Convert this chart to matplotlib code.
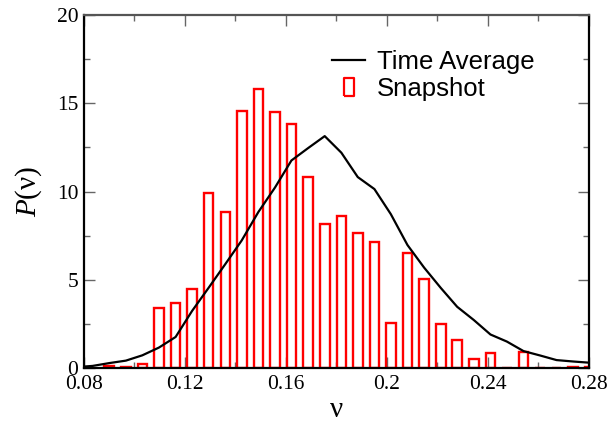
import matplotlib
matplotlib.use("Agg")
import matplotlib.pyplot as plt
from matplotlib.lines import Line2D
from matplotlib.ticker import MultipleLocator

# histogram of a single snapshot (bin centres, heights)
snap_nu = [0.0900, 0.0966, 0.1031, 0.1097, 0.1163, 0.1228, 0.1294, 0.1360,
           0.1425, 0.1491, 0.1557, 0.1622, 0.1688, 0.1754, 0.1820, 0.1885,
           0.1951, 0.2016, 0.2082, 0.2148, 0.2214, 0.2279, 0.2345, 0.2411,
           0.2476, 0.2542, 0.2608, 0.2673, 0.2739, 0.2805]
snap_p = [0.12, 0.05, 0.22, 3.38, 3.66, 4.49, 9.89, 8.82, 14.56, 15.81,
          14.50, 13.84, 10.80, 8.18, 8.61, 7.63, 7.16, 2.57, 6.53, 5.02,
          2.51, 1.57, 0.49, 0.87, 0.0, 0.90, 0.0, 0.0, 0.08, 0.08]

# time averaged distribution
avg_nu = [0.0768, 0.0834] + snap_nu
avg_p = [0.05, 0.12, 0.28, 0.42, 0.72, 1.16, 1.76, 3.23, 4.55, 5.89, 7.23,
         8.84, 10.23, 11.76, 12.46, 13.14, 12.20, 10.82, 10.14, 8.72, 6.97,
         5.69, 4.54, 3.47, 2.72, 1.90, 1.50, 0.96, 0.71, 0.45, 0.37, 0.30]

x_ticks = [0.08, 0.12, 0.16, 0.2, 0.24, 0.28]
x_labels = ["0.08", "0.12", "0.16", "0.2", "0.24", "0.28"]
y_ticks = [0, 5, 10, 15, 20]

serif = "Liberation Serif"
sans = "Liberation Sans"

plt.rcParams["mathtext.fontset"] = "custom"
plt.rcParams["mathtext.it"] = serif + ":italic"
plt.rcParams["mathtext.rm"] = serif

fig = plt.figure(figsize=(6.09, 4.24), dpi=100)
ax = fig.add_axes([0.138, 0.132, 0.8285, 0.8325])

ax.bar(snap_nu, snap_p, width=0.0038, facecolor="none", edgecolor="#ff0000",
       linewidth=1.7, zorder=2)
ax.plot(avg_nu, avg_p, color="black", linewidth=1.6, zorder=3)

ax.set_xlim(0.08, 0.28)
ax.set_ylim(0, 20)
ax.set_xticks(x_ticks)
ax.set_xticklabels(x_labels)
ax.set_yticks(y_ticks)
ax.xaxis.set_minor_locator(MultipleLocator(0.02))
ax.yaxis.set_minor_locator(MultipleLocator(2.5))

ax.tick_params(which="both", direction="in", top=True, right=True,
               color="#666666", width=1.0)
ax.tick_params(which="major", length=8, labelsize=15.5, pad=5)
ax.tick_params(which="minor", length=4)
ax.tick_params(axis="y", pad=4)
for lab in ax.get_xticklabels() + ax.get_yticklabels():
    lab.set_fontfamily(serif)

for sp in ax.spines.values():
    sp.set_linewidth(1.6)
ax.spines["top"].set_color("#555555")

ax.set_ylabel(r"$\it{P}$(ν)", fontsize=21, family=serif, labelpad=9)
ax.set_xlabel("ν", fontsize=21, family=serif, labelpad=2)

handles = [
    Line2D([], [], color="black", linewidth=1.6),
    Line2D([], [], linestyle="None", marker=[(-0.31, -0.5), (0.31, -0.5), (0.31, 0.5),
                                              (-0.31, 0.5), (-0.31, -0.5)],
           markersize=12.5, markerfacecolor="none", markeredgecolor="#ff0000",
           markeredgewidth=1.6),
]
leg = ax.legend(handles, ["Time Average", "Snapshot"], frameon=False,
                prop={"family": sans, "size": 18.5}, handlelength=1.28,
                handletextpad=0.47, labelspacing=0.1, borderpad=0,
                borderaxespad=0, loc="upper left", bbox_to_anchor=(0.4916, 0.90))

fig.savefig("out.png", dpi=100)
